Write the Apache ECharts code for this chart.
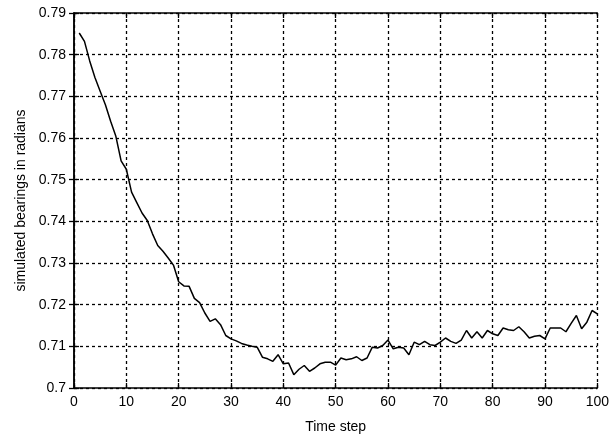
<!DOCTYPE html>
<html>
<head>
<meta charset="utf-8">
<script src="https://cdn.jsdelivr.net/npm/echarts@6/dist/echarts.min.js"></script>
<style>
  html, body { margin: 0; padding: 0; background: #fff; }
  #chart { width: 612px; height: 442px; }
</style>
</head>
<body>
<div id="chart"></div>
<script>
// time steps 1..100
const steps = []
for (let i = 1; i <= 100; i++) steps.push(i)

// simulated bearing (radians)
const bearings = [
  0.7852, 0.7832, 0.7785, 0.7745, 0.7712, 0.7680, 0.7640, 0.7604, 0.7545, 0.7525,
  0.7470, 0.7445, 0.7420, 0.7402, 0.7370, 0.7342, 0.7328, 0.7312, 0.7295, 0.7255,
  0.7245, 0.7244, 0.7215, 0.7205, 0.7180, 0.7160, 0.7166, 0.7152, 0.7126, 0.7118,
  0.7113, 0.7107, 0.7103, 0.7100, 0.7098, 0.7074, 0.7070, 0.7064, 0.7080, 0.7058,
  0.7060, 0.7032, 0.7045, 0.7054, 0.7040, 0.7048, 0.7058, 0.7062, 0.7062, 0.7055,
  0.7072, 0.7068, 0.7070, 0.7075, 0.7066, 0.7072, 0.7098, 0.7096, 0.7102, 0.7115,
  0.7094, 0.7098, 0.7096, 0.7080, 0.7110, 0.7104, 0.7112, 0.7104, 0.7102, 0.7110,
  0.7120, 0.7112, 0.7107, 0.7115, 0.7138, 0.7120, 0.7135, 0.7120, 0.7138, 0.7130,
  0.7126, 0.7144, 0.7140, 0.7138, 0.7147, 0.7135, 0.7120, 0.7124, 0.7126, 0.7118,
  0.7144, 0.7144, 0.7144, 0.7135, 0.7155, 0.7174, 0.7142, 0.7158, 0.7186, 0.7178
]

const font = 'Liberation Sans, Arial, sans-serif'
const dash = { color: '#000', width: 1.3, type: [3, 3] }
const box = { show: true, lineStyle: { color: '#000', width: 1.5 } }
const inTick = { show: true, inside: true, length: 5, lineStyle: { color: '#000', width: 1.3 } }

const chart = echarts.init(document.getElementById('chart'))
chart.setOption({
  animation: false,
  grid: { left: 74, right: 14, top: 13, bottom: 54 },
  xAxis: [{
    type: 'value',
    min: 0, max: 100, interval: 10,
    name: 'Time step',
    nameLocation: 'middle',
    nameGap: 32,
    nameTextStyle: { color: '#000', fontSize: 14, fontFamily: font },
    axisLine: box,
    axisTick: inTick,
    axisLabel: { color: '#000', fontSize: 14, fontFamily: font, margin: 7 },
    splitLine: { show: true, lineStyle: dash }
  }, {
    type: 'value', position: 'top',
    min: 0, max: 100, interval: 10,
    axisLine: box, axisTick: inTick,
    axisLabel: { show: false }, splitLine: { show: false }
  }],
  yAxis: [{
    type: 'value',
    min: 0.7, max: 0.79, interval: 0.01,
    name: 'simulated bearings in radians',
    nameLocation: 'middle',
    nameGap: 42,
    nameTextStyle: { color: '#000', fontSize: 14, fontFamily: font },
    axisLine: box,
    axisTick: inTick,
    axisLabel: {
      color: '#000', fontSize: 14, fontFamily: font, margin: 8,
      formatter: v => String(+v.toFixed(2))
    },
    splitLine: { show: true, lineStyle: dash }
  }, {
    type: 'value', position: 'right',
    min: 0.7, max: 0.79, interval: 0.01,
    axisLine: box, axisTick: inTick,
    axisLabel: { show: false }, splitLine: { show: false }
  }],
  series: [{
    type: 'line',
    data: steps.map((t, i) => [t, bearings[i]]),
    showSymbol: false,
    lineStyle: { color: '#000', width: 1.5 }
  }]
})
</script>
</body>
</html>
